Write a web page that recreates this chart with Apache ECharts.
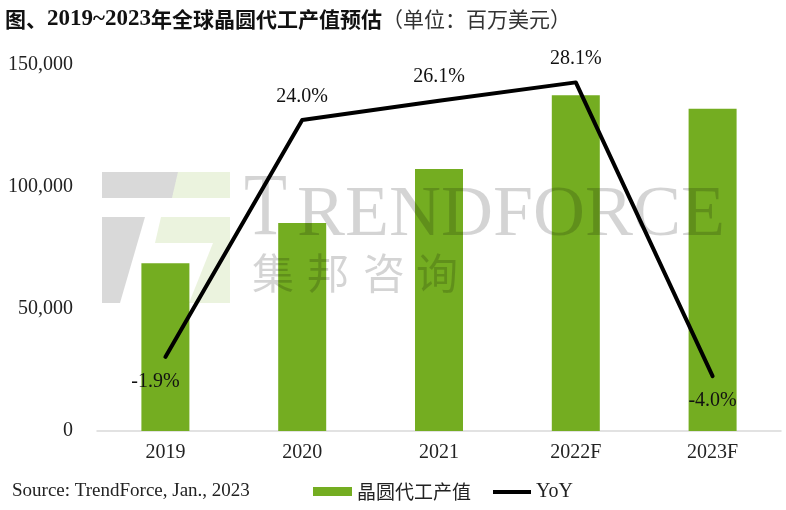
<!DOCTYPE html>
<html>
<head>
<meta charset="utf-8">
<script src="https://cdn.jsdelivr.net/npm/echarts@6/dist/echarts.min.js"></script>
<style>
  html, body { margin: 0; padding: 0; background: #fff; }
  #container { width: 786px; height: 510px; }
</style>
</head>
<body>
<div id="container"></div>
<script>
// data
var years = ['2019', '2020', '2021', '2022F', '2023F'];
var revenue = [68700, 85200, 107400, 137600, 132100];   // 百万美元
var yoy = [-1.9, 24.0, 26.1, 28.1, -4.0];               // %
var revTicks = [0, 50000, 100000, 150000];

var serif = 'Liberation Serif';
var cjk = 'Noto Sans CJK SC';
var wmGray = 'rgba(0,0,0,0.15)';
var wmGreen = 'rgba(118,174,34,0.15)';
var wmText = 'rgba(0,0,0,0.17)';

function fmtNum(v) {
    return String(v).replace(/\B(?=(\d{3})+(?!\d))/g, ',');
}

// line labels: top for the high points, under for the two low ones
var yoyData = [];
for (var i = 0; i < yoy.length; i++) {
    var item = { value: yoy[i] };
    if (yoy[i] < 0) {
        item.label = { position: 'bottom', distance: 14 };
        if (i == 0) item.label.offset = [-10, 0];
    }
    yoyData.push(item);
}

// watermark (logo + text), drawn over the bars with low alpha
var wm = [
    { type: 'polygon', shape: { points: [[102,172],[178,172],[172,198],[102,198]] }, style: { fill: wmGray } },
    { type: 'polygon', shape: { points: [[178,172],[230,172],[230,198],[172,198]] }, style: { fill: wmGreen } },
    { type: 'polygon', shape: { points: [[102,217],[145,217],[120,303],[102,303]] }, style: { fill: wmGray } },
    { type: 'polygon', shape: { points: [[161,217],[230,217],[230,243],[155,243]] }, style: { fill: wmGreen } },
    { type: 'polygon', shape: { points: [[213,243],[230,243],[230,303],[189,303]] }, style: { fill: wmGreen } },
    { type: 'text', x: 244, y: 211, scaleX: 0.8,
      style: { text: 'T', x: 0, y: 0, font: '88px ' + serif, fill: wmText, verticalAlign: 'middle' } },
    { type: 'text', x: 297, y: 216, scaleX: 1.0,
      style: { text: 'RENDFORCE', x: 0, y: 0, font: '72px ' + serif, fill: wmText, verticalAlign: 'middle' } }
];
var wmChars = ['集', '邦', '咨', '询'];
var wmCharX = [273, 328, 384, 437];
for (var j = 0; j < wmChars.length; j++) {
    wm.push({ type: 'text', x: wmCharX[j], y: 273,
        style: { text: wmChars[j], x: 0, y: 0, font: '42px "' + cjk + '"', fill: wmText,
                 align: 'center', verticalAlign: 'middle' } });
}
for (var m = 0; m < wm.length; m++) wm[m].z = 10;

var myChart = echarts.init(document.getElementById('container'));
var option = {
    animation: false,
    backgroundColor: '#fff',
    title: {
        left: 0, top: 3,
        text: '{a|图、}{b|2019~2023}{a|年全球晶圆代工产值预估}{c|（单位：百万美元）}',
        textStyle: {
            rich: {
                a: { fontFamily: cjk, fontWeight: 'bold', fontSize: 21, color: '#111' },
                b: { fontFamily: serif, fontWeight: 'bold', fontSize: 23, color: '#111' },
                c: { fontFamily: cjk, fontWeight: 'normal', fontSize: 21, color: '#333' }
            }
        }
    },
    legend: [{
        data: ['晶圆代工产值'],
        left: 313, top: 482, padding: 0,
        icon: 'rect', itemWidth: 39, itemHeight: 9,
        textStyle: { fontFamily: cjk, fontSize: 19, color: '#222' }
    }, {
        data: ['YoY'],
        left: 493, top: 482, padding: 0,
        icon: 'rect', itemWidth: 38, itemHeight: 4,
        textStyle: { fontFamily: serif, fontSize: 20, color: '#222' }
    }],
    grid: { left: 97, right: 5, top: 65, bottom: 79 },
    xAxis: {
        type: 'category',
        data: years,
        axisLine: { lineStyle: { color: '#d9d9d9', width: 1.5 } },
        axisTick: { show: false },
        axisLabel: { fontFamily: serif, fontSize: 20, color: '#222', margin: 12 }
    },
    yAxis: [{
        type: 'value',
        min: revTicks[0], max: revTicks[revTicks.length - 1], interval: 50000,
        axisLine: { show: false },
        axisTick: { show: false },
        splitLine: { show: false },
        axisLabel: { fontFamily: serif, fontSize: 20, color: '#222', margin: 24, formatter: fmtNum }
    }, {
        type: 'value',
        min: -10, max: 30, interval: 10,
        show: false,
        splitLine: { show: false }
    }],
    series: [{
        name: '晶圆代工产值',
        type: 'bar',
        data: revenue,
        barWidth: 48,
        itemStyle: { color: '#74ad21' },
        z: 2
    }, {
        name: 'YoY',
        type: 'line',
        yAxisIndex: 1,
        data: yoyData,
        symbol: 'circle',
        symbolSize: 1,
        showSymbol: true,
        itemStyle: { color: '#000' },
        lineStyle: { color: '#000', width: 4, cap: 'round', join: 'round' },
        label: {
            show: true,
            position: 'top',
            distance: 13,
            fontFamily: serif,
            fontSize: 20,
            color: '#111',
            formatter: function (p) { return p.value.toFixed(1) + '%'; }
        },
        z: 20
    }],
    graphic: [
        { type: 'group', children: wm },
        { type: 'text', left: 12, top: 482,
          style: { text: 'Source: TrendForce, Jan., 2023', font: '19px "' + serif + '"', fill: '#222' } }
    ]
};
myChart.setOption(option);
</script>
</body>
</html>
